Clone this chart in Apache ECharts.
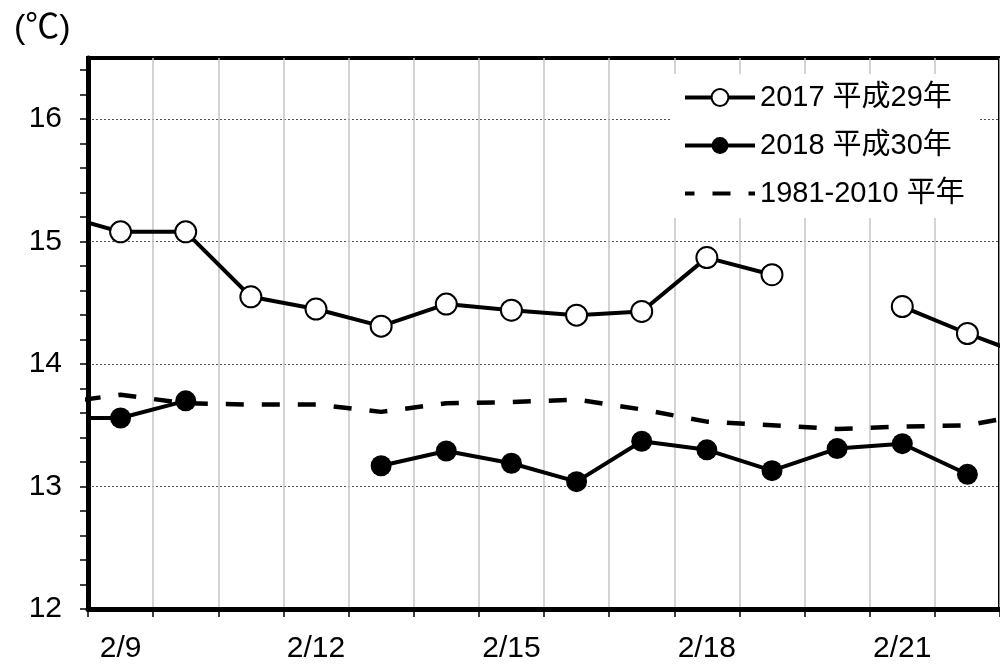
<!DOCTYPE html>
<html>
<head>
<meta charset="utf-8">
<script src="https://cdn.jsdelivr.net/npm/echarts@6/dist/echarts.min.js"></script>
<style>
html, body { margin: 0; padding: 0; background: #fff; }
#main { width: 1000px; height: 664px; }
</style>
</head>
<body>
<div id="main"></div>
<script>
// days of February, 2/8 and 2/23 sit just outside the visible window
var days = [8, 9, 10, 11, 12, 13, 14, 15, 16, 17, 18, 19, 20, 21, 22, 23];
var dayLabels = ['2/9', '2/10', '2/11', '2/12', '2/13', '2/14', '2/15', '2/16', '2/17', '2/18', '2/19', '2/20', '2/21', '2/22'];
var yLabelValues = [12, 13, 14, 15, 16];

var temp2017 = [15.23, 15.08, 15.08, 14.55, 14.45, 14.31, 14.49, 14.44, 14.40, 14.43, 14.87, 14.73, null, 14.47, 14.25, 14.05];
var temp2018 = [13.56, 13.56, 13.70, null, null, 13.17, 13.29, 13.19, 13.04, 13.37, 13.30, 13.13, 13.31, 13.35, 13.10, null];
var tempNormal = [13.68, 13.75, 13.68, 13.67, 13.67, 13.61, 13.68, 13.69, 13.71, 13.63, 13.53, 13.50, 13.47, 13.49, 13.50, 13.60];

var names = ['2017 平成29年', '2018 平成30年', '1981-2010 平年'];
var font = '"Liberation Sans", Arial, "Noto Sans CJK JP", sans-serif';

function pairs(vals) {
    var out = [];
    for (var i = 0; i < days.length; i++) {
        out.push([days[i], vals[i] == null ? '-' : vals[i]]);
    }
    return out;
}

var chart = echarts.init(document.getElementById('main'));

chart.setOption({
    animation: false,
    backgroundColor: '#fff',
    textStyle: { fontFamily: font, color: '#000' },
    title: {
        text: '(℃)',
        left: 9,
        top: 7,
        textStyle: { fontFamily: font, fontSize: 34, fontWeight: 'normal', color: '#000' }
    },
    legend: {
        data: [
            { name: names[0] },
            { name: names[1] },
            { name: names[2], itemStyle: { color: 'rgba(0,0,0,0)', borderWidth: 0 } }
        ],
        orient: 'vertical',
        left: 671,
        top: 74,
        padding: [9, 14, 10, 12],
        itemGap: 19,
        itemWidth: 70,
        itemHeight: 21,
        backgroundColor: '#fff',
        lineStyle: { width: 4 },
        textStyle: { fontFamily: font, fontSize: 29, color: '#000' }
    },
    grid: {
        left: 88,
        top: 58,
        width: 917.5,
        bottom: 53,
        show: true,
        borderColor: '#000',
        borderWidth: 4,
        containLabel: false
    },
    xAxis: [{
        type: 'category',
        data: dayLabels,
        boundaryGap: true,
        axisLine: { show: true, lineStyle: { color: '#000', width: 5 } },
        axisTick: { show: true, interval: 0, length: 8, lineStyle: { color: '#000', width: 1.5 } },
        axisLabel: { interval: 2, fontSize: 30, color: '#000', margin: 25, fontFamily: font },
        splitLine: { show: true, interval: 0, lineStyle: { color: '#c4c4c4', width: 1.5 } }
    }, {
        type: 'value',
        min: 8.5,
        max: 22.5,
        show: false
    }],
    yAxis: {
        type: 'value',
        min: 12,
        max: 16.5,
        interval: 1,
        axisLine: { show: true, lineStyle: { color: '#000', width: 5 } },
        axisTick: { show: true, length: 8, customValues: yLabelValues, lineStyle: { color: '#000', width: 1.5 } },
        minorTick: { show: true, splitNumber: 5, length: 8, lineStyle: { color: '#000', width: 1.5 } },
        axisLabel: {
            customValues: yLabelValues,
            fontSize: 30, color: '#000', margin: 26, fontFamily: font
        },
        splitLine: { show: true, lineStyle: { color: '#555', width: 1, type: [2, 2] } }
    },
    series: [{
        name: names[0],
        type: 'line',
        xAxisIndex: 1,
        data: pairs(temp2017),
        symbol: 'circle',
        symbolSize: 21,
        lineStyle: { color: '#000', width: 4 },
        itemStyle: { color: '#fff', borderColor: '#000', borderWidth: 2 },
        z: 3
    }, {
        name: names[1],
        type: 'line',
        xAxisIndex: 1,
        data: pairs(temp2018),
        symbol: 'circle',
        symbolSize: 21,
        lineStyle: { color: '#000', width: 4 },
        itemStyle: { color: '#000', borderColor: '#000', borderWidth: 0 },
        z: 3
    }, {
        name: names[2],
        type: 'line',
        xAxisIndex: 1,
        data: pairs(tempNormal),
        symbol: 'none',
        lineStyle: { color: '#000', width: 4.5, type: [18, 18], dashOffset: 8.5 },
        itemStyle: { color: '#000' },
        z: 2
    }]
});
</script>
</body>
</html>
